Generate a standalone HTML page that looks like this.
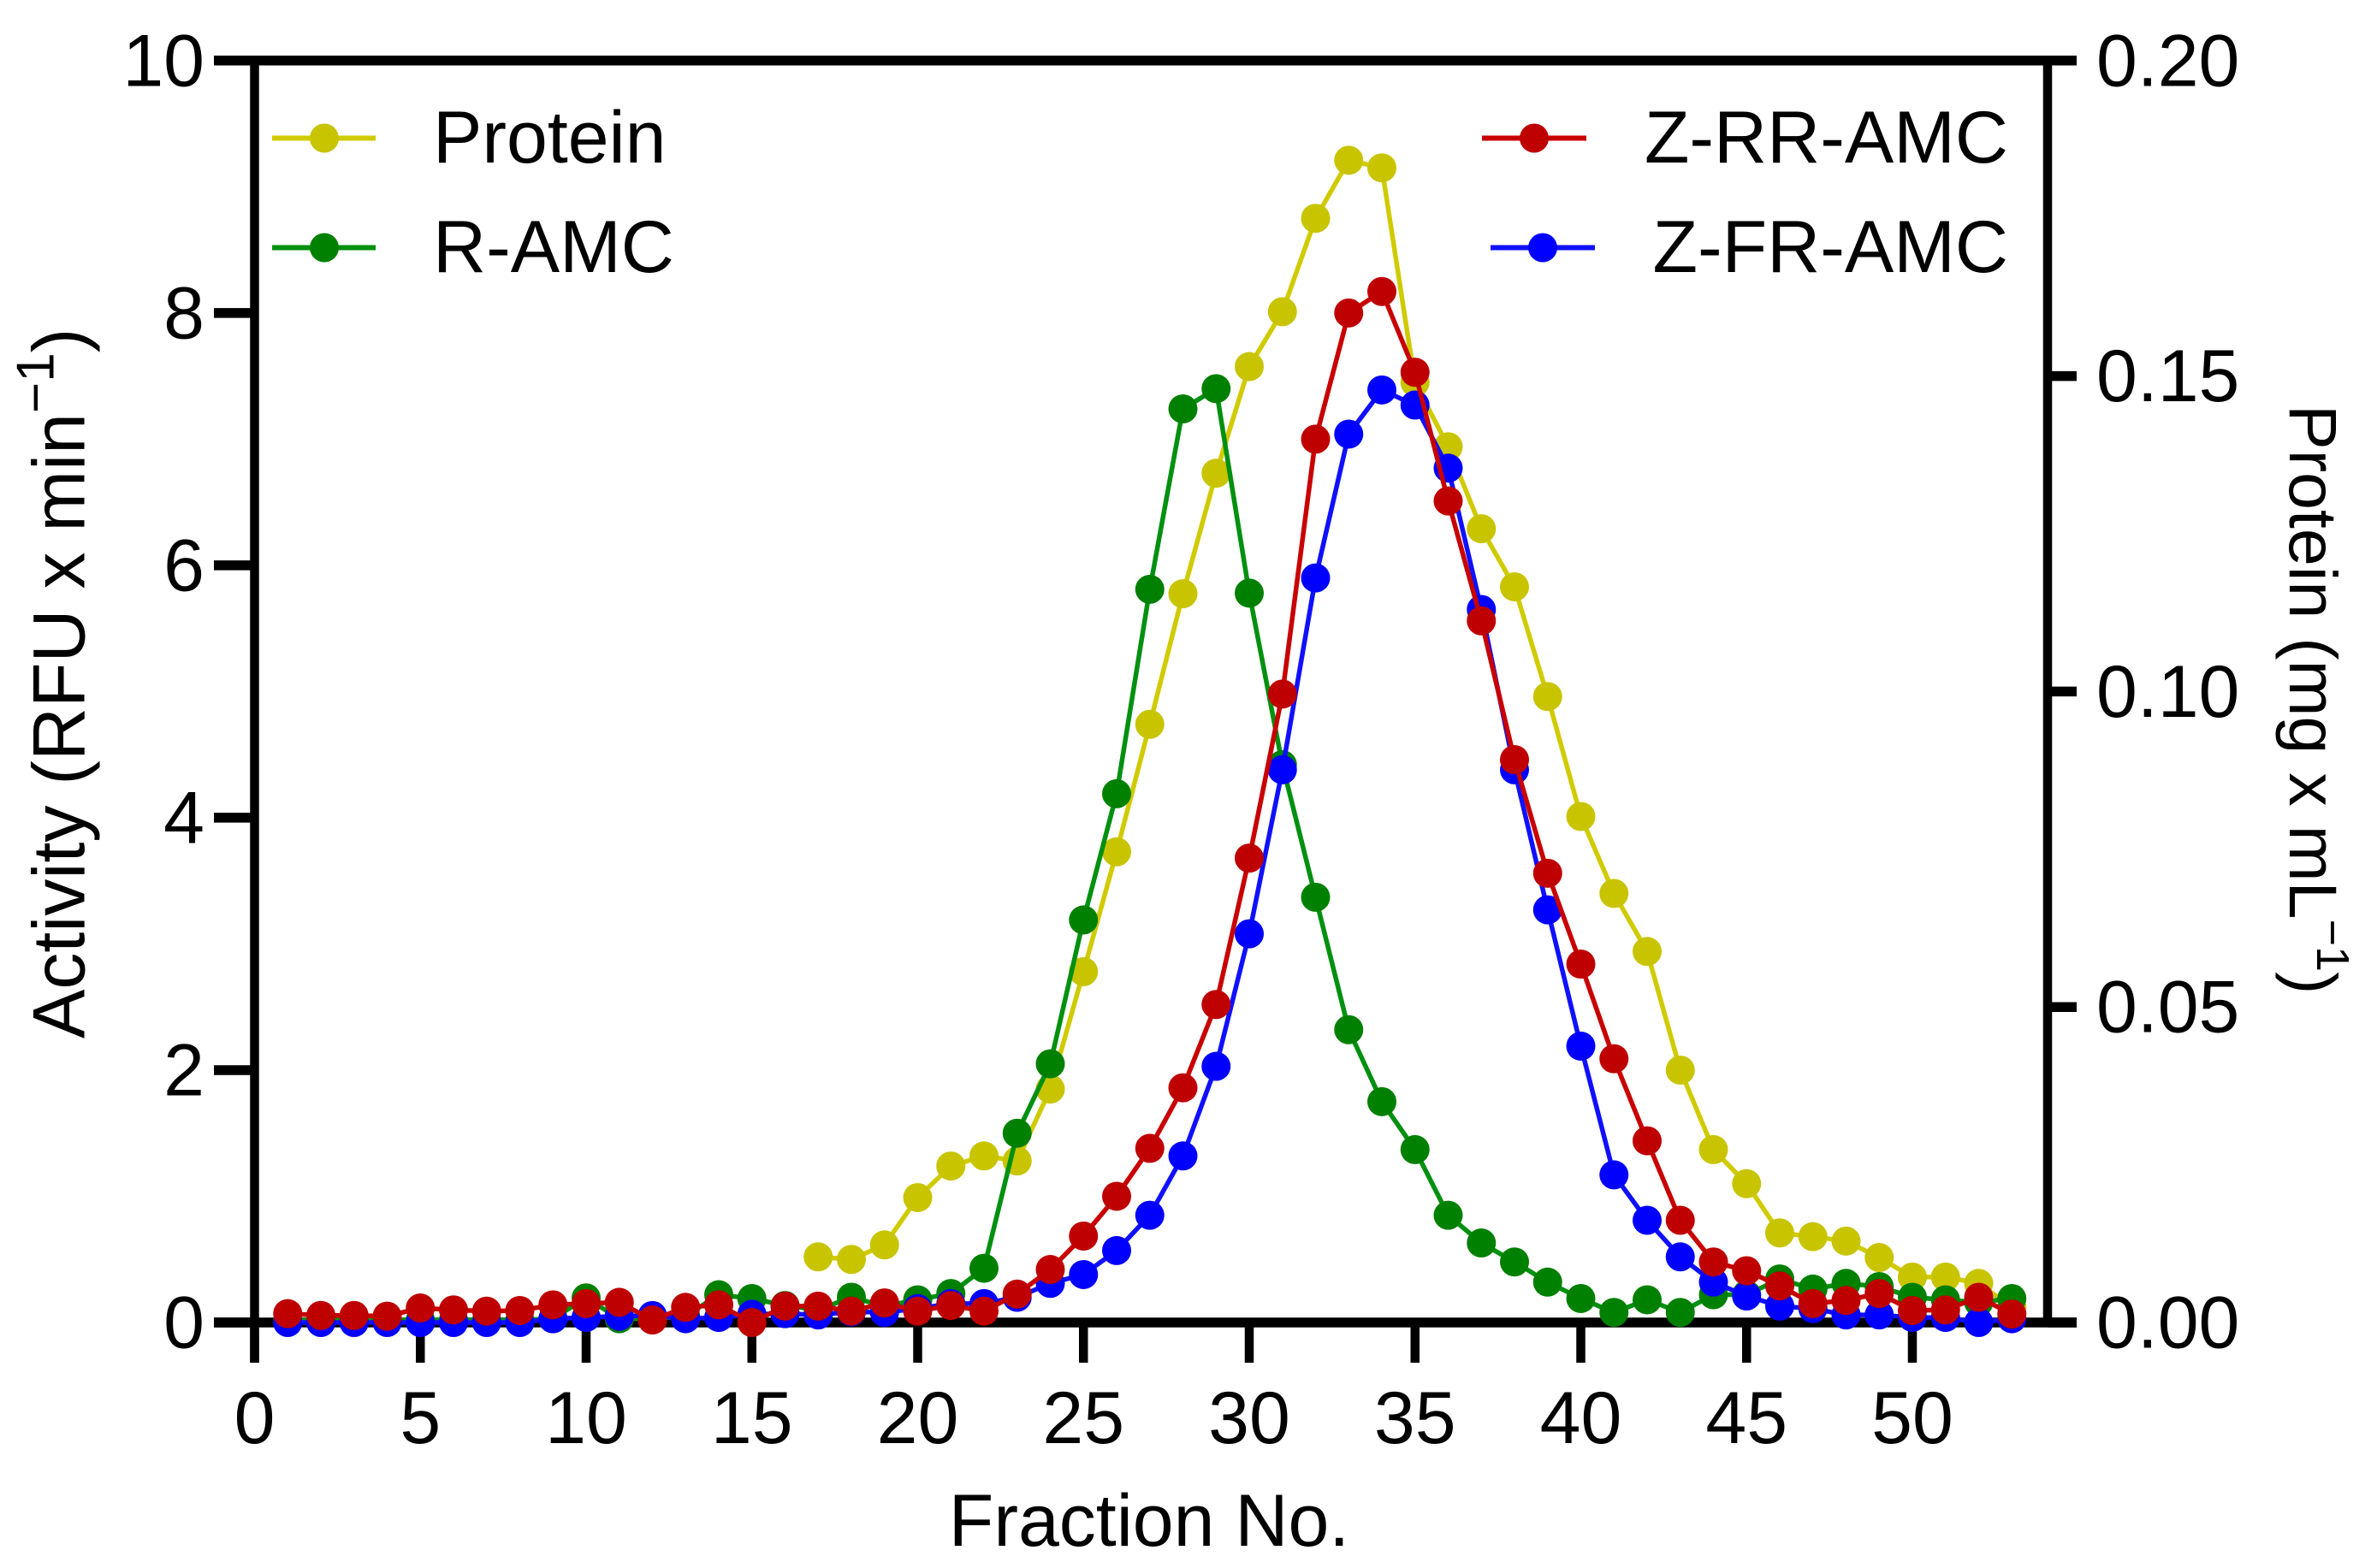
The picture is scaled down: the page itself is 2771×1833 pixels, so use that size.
<!DOCTYPE html>
<html lang="en">
<head>
<meta charset="utf-8">
<title>Activity and protein by fraction</title>
<style>
  html, body { margin: 0; padding: 0; background: #fff; }
  svg { display: block; }
  text { font-family: "Liberation Sans", Arial, sans-serif; font-size: 86px; fill: #000; }
</style>
</head>
<body>
<svg id="chart" xmlns="http://www.w3.org/2000/svg" width="2771" height="1833" viewBox="0 0 2771 1833">
  <rect x="0" y="0" width="2771" height="1833" fill="#ffffff"/>
  <g id="axes"></g>
  <g id="series"></g>

  <text x="1343" y="1807" text-anchor="middle">Fraction No.</text>
  <text transform="translate(98.5,1214) rotate(-90)">Activity (RFU x min<tspan font-size="62" dy="-36">−1</tspan><tspan dy="36">)</tspan></text>
  <text font-size="79" style="font-size:79px" transform="translate(2676,473) rotate(90)">Protein (mg x mL<tspan style="font-size:54px" dy="-32">−1</tspan><tspan dy="32">)</tspan></text>

  <g>
    <g>
      <line x1="318" y1="161.5" x2="439" y2="161.5" stroke="#d0cb00" stroke-width="6"/>
      <circle cx="379" cy="161.5" r="17" fill="#c8c400"/>
      <text x="506" y="190">Protein</text>
    </g>
    <g>
      <line x1="318" y1="289.5" x2="439" y2="289.5" stroke="#009010" stroke-width="6"/>
      <circle cx="379" cy="289.5" r="17" fill="#008000"/>
      <text x="506" y="318">R-AMC</text>
    </g>
    <g>
      <line x1="1732" y1="161.5" x2="1854" y2="161.5" stroke="#c80000" stroke-width="6"/>
      <circle cx="1793" cy="161.5" r="17" fill="#bf0000"/>
      <text x="2347" y="190" text-anchor="end">Z-RR-AMC</text>
    </g>
    <g>
      <line x1="1742" y1="289.5" x2="1864" y2="289.5" stroke="#1010ff" stroke-width="6"/>
      <circle cx="1803" cy="289.5" r="17" fill="#0000ff"/>
      <text x="2347" y="318" text-anchor="end">Z-FR-AMC</text>
    </g>
  </g>
</svg>

<script>
const fractions = [1,2,3,4,5,6,7,8,9,10,11,12,13,14,15,16,17,18,19,20,21,22,23,24,25,26,27,28,29,30,31,32,33,34,35,36,37,38,39,40,41,42,43,44,45,46,47,48,49,50,51,52,53];

const proteinValues = [null,null,null,null,null,null,null,null,null,null,null,null,null,null,null,null,
  0.0104,0.0100,0.0123,0.0198,0.0248,0.0264,0.0256,0.0370,0.0556,0.0746,0.0948,0.1155,0.1346,0.1515,0.1602,0.1750,0.1842,0.1830,0.1490,0.1388,0.1258,0.1166,0.0992,0.0802,0.0680,0.0588,0.0400,0.0274,0.0220,0.0142,0.0136,0.0129,0.0103,0.0072,0.0072,0.0062,0.0024];

const rAmcValues = [0.02,0.02,0.02,0.02,0.02,0.02,0.02,0.02,0.03,0.195,0.03,0.03,0.05,0.22,0.19,0.135,0.10,0.20,0.13,0.18,0.23,0.43,1.50,2.05,3.19,4.19,5.81,7.24,7.40,5.78,4.42,3.37,2.32,1.75,1.37,0.85,0.63,0.48,0.32,0.19,0.08,0.18,0.08,0.22,0.22,0.345,0.265,0.31,0.285,0.20,0.18,0.16,0.19];

const zFrAmcValues = [0,0,0,0,0,0,0,0,0.03,0.04,0.05,0.055,0.03,0.04,0.065,0.07,0.06,0.085,0.08,0.11,0.15,0.15,0.20,0.31,0.38,0.57,0.85,1.32,2.03,3.08,4.38,5.90,7.04,7.39,7.27,6.77,5.65,4.38,3.27,2.19,1.17,0.81,0.52,0.32,0.21,0.13,0.11,0.06,0.06,0.04,0.04,0,0.03];

const zRrAmcValues = [0.07,0.056,0.056,0.05,0.115,0.10,0.09,0.095,0.14,0.15,0.16,0.02,0.12,0.14,0,0.13,0.13,0.09,0.155,0.09,0.135,0.09,0.225,0.42,0.685,1.00,1.38,1.86,2.52,3.68,4.98,7.00,8.00,8.17,7.53,6.51,5.56,4.46,3.56,2.84,2.09,1.44,0.81,0.48,0.41,0.29,0.15,0.175,0.23,0.095,0.10,0.20,0.067];

const xTickValues = [0,5,10,15,20,25,30,35,40,45,50];
const xTickLabels = ["0","5","10","15","20","25","30","35","40","45","50"];
const leftTickValues = [0,2,4,6,8,10];
const leftTickLabels = ["0","2","4","6","8","10"];
const rightTickValues = [0,0.05,0.10,0.15,0.20];
const rightTickLabels = ["0.00","0.05","0.10","0.15","0.20"];

const NS = "http://www.w3.org/2000/svg";
const X_ORIGIN = 297.5, X_PER_UNIT = 38.75;
const Y_BOTTOM = 1546, Y_TOP = 70.8;
const LEFT_MAX = 10, RIGHT_MAX = 0.2;
const AXIS_LEFT = 297.5, AXIS_RIGHT = 2393;
const axesLayer = document.getElementById("axes");
const seriesLayer = document.getElementById("series");

function xScale(v) { return X_ORIGIN + v * X_PER_UNIT; }
function yLeft(v) { return Y_BOTTOM - (v / LEFT_MAX) * (Y_BOTTOM - Y_TOP); }
function yRight(v) { return Y_BOTTOM - (v / RIGHT_MAX) * (Y_BOTTOM - Y_TOP); }

function svgEl(tag, attrs, parent) {
  const el = document.createElementNS(NS, tag);
  for (const k in attrs) el.setAttribute(k, attrs[k]);
  parent.appendChild(el);
  return el;
}

/* frame */
const leftSpine = svgEl("line", { x1: AXIS_LEFT, y1: Y_TOP, x2: AXIS_LEFT, y2: 1593, stroke: "#000", "stroke-width": 10.5 }, axesLayer);



const rightSpine = svgEl("line", { x1: AXIS_RIGHT, y1: Y_TOP, x2: AXIS_RIGHT, y2: Y_BOTTOM, stroke: "#000", "stroke-width": 10.5 }, axesLayer);



const topSpine = svgEl("line", { x1: 250, y1: Y_TOP, x2: 2427, y2: Y_TOP, stroke: "#000", "stroke-width": 11.5 }, axesLayer);



const bottomSpine = svgEl("line", { x1: 250, y1: Y_BOTTOM, x2: 2427, y2: Y_BOTTOM, stroke: "#000", "stroke-width": 11.5 }, axesLayer);



/* x ticks */
xTickValues.forEach(function (v, i) {
  const tick = svgEl("line", { x1: xScale(v), y1: Y_BOTTOM, x2: xScale(v), y2: 1593, stroke: "#000", "stroke-width": 10.5 }, axesLayer);
  
  
  const label = svgEl("text", { x: xScale(v), y: 1687, "text-anchor": "middle" }, axesLayer);
  label.textContent = xTickLabels[i];
  
  
});

/* left ticks */
leftTickValues.forEach(function (v, i) {
  const tick = svgEl("line", { x1: 250, y1: yLeft(v), x2: AXIS_LEFT, y2: yLeft(v), stroke: "#000", "stroke-width": 11.5 }, axesLayer);
  
  
  const label = svgEl("text", { x: 239, y: yLeft(v) + 29.5, "text-anchor": "end" }, axesLayer);
  label.textContent = leftTickLabels[i];
  
  
});

/* right ticks */
rightTickValues.forEach(function (v, i) {
  const tick = svgEl("line", { x1: AXIS_RIGHT, y1: yRight(v), x2: 2427, y2: yRight(v), stroke: "#000", "stroke-width": 11.5 }, axesLayer);
  
  
  const label = svgEl("text", { x: 2450, y: yRight(v) + 29.5 }, axesLayer);
  label.textContent = rightTickLabels[i];
  
  
});

/* series */
function drawSeries(values, yFn, lineColor, markerColor, name) {
  const group = svgEl("g", {}, seriesLayer);
  
  
  const pts = [];
  values.forEach(function (v, i) {
    if (v !== null) pts.push(xScale(fractions[i]) + "," + yFn(v));
  });
  const line = svgEl("polyline", { points: pts.join(" "), fill: "none", stroke: lineColor, "stroke-width": 5.5, "stroke-linejoin": "round" }, group);
  
  
  values.forEach(function (v, i) {
    if (v === null) return;
    const dot = svgEl("circle", { cx: xScale(fractions[i]), cy: yFn(v), r: 17, fill: markerColor }, group);
    
    
  });
}

drawSeries(proteinValues, yRight, "#d0cb00", "#c8c400", "protein");
drawSeries(rAmcValues, yLeft, "#009010", "#008000", "r-amc");
drawSeries(zFrAmcValues, yLeft, "#1010ff", "#0000ff", "z-fr-amc");
drawSeries(zRrAmcValues, yLeft, "#c80000", "#bf0000", "z-rr-amc");
</script>
</body>
</html>
